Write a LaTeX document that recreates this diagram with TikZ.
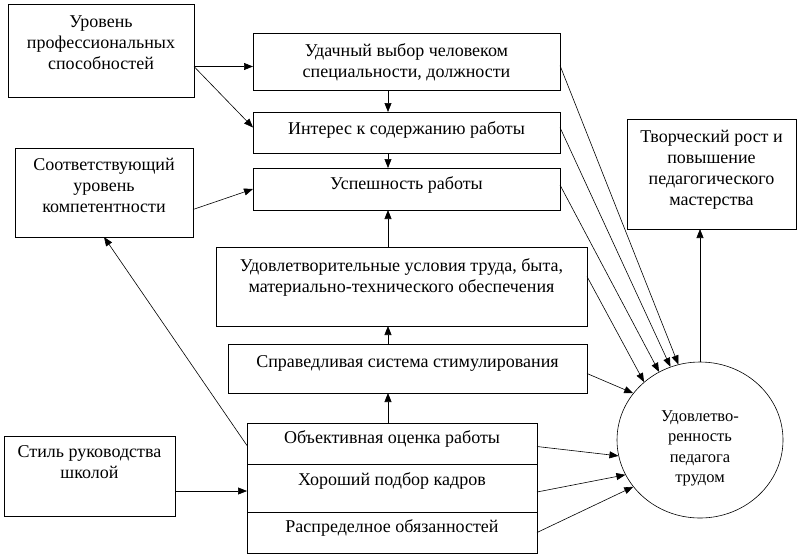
\documentclass[tikz,border=0pt]{standalone}
\usepackage{fontspec}
\setmainfont{Liberation Serif}
\usepackage{tikz}
\usetikzlibrary{arrows.meta, positioning, calc, shapes.geometric}

\begin{document}
\begin{tikzpicture}[
  x=1pt, y=-1pt,
  box/.style  = {rectangle, draw, line width=0.8pt, inner sep=0pt, outer sep=0pt,
                 minimum width=#1, align=center,
                 font=\fontsize{18}{21}\selectfont},
  circ/.style = {ellipse, draw, line width=0.6pt, inner sep=0pt,
                 minimum width=166pt, minimum height=156pt, align=center,
                 text height=89pt, text depth=4pt,
                 font=\fontsize{16.5}{20.5}\selectfont},
  arr/.style  = {-{Triangle[length=9pt,width=7pt]}, line width=0.6pt},
]
\useasboundingbox (0,0) rectangle (799,558);
% Left column
\node[box=186pt, text height=65pt, text depth=28pt] (lev) at (101,50.5)
  {Уровень\\профессиональных\\способностей};
\node[box=178pt, text height=64pt, text depth=25pt] (sootv) at (104,192.5)
  {Соответствующий\\уровень\\компетентности};
\node[box=171pt, text height=42pt, text depth=38pt] (stil) at (89.5,476)
  {Стиль руководства\\школой};
% Middle column
\node[box=307pt, text height=44pt, text depth=13pt] (udach) at (406.5,61.5)
  {Удачный выбор человеком\\специальности, должности};
\node[box=307pt, text height=22pt, text depth=19pt] (inter) at (406.5,132.5)
  {Интерес к содержанию работы};
\node[box=307pt, text height=21pt, text depth=21pt] (usp) at (406.5,189)
  {Успешность работы};
\node[box=371pt, text height=45pt, text depth=34pt] (udovl) at (401.5,286.5)
  {Удовлетворительные условия труда, быта,\\материально-технического обеспечения};
\node[box=359pt, text height=23pt, text depth=26pt] (sprav) at (407.5,368.5)
  {Справедливая система стимулирования};
% Stack of three
\node[box=290pt, text height=20pt, text depth=21pt] (objekt) at (392,443.5)
  {Объективная оценка работы};
\node[box=290pt, text height=21pt, text depth=27pt, below=0pt of objekt] (horosh)
  {Хороший подбор кадров};
\node[box=290pt, text height=20pt, text depth=21pt, below=0pt of horosh] (raspr)
  {Распределное обязанностей};
% Right column
\node[box=169pt, text height=86pt, text depth=24pt] (tvor) at (711.5,174)
  {Творческий рост и\\повышение\\педагогического\\мастерства};
\node[circ] (sat) at (700,440) {Удовлетво-\\ренность\\педагога\\трудом};
\coordinate (axis) at (388,0);
% Arrows
\draw[arr] ($(lev.east)+(0,16)$) coordinate (levout) -- (levout -| udach.west);
\draw[arr] (levout) -- ($(inter.west)+(0,-5)$);
\draw[arr] ($(sootv.east)+(0,17)$) -- (usp.west);
\draw[arr] (udach.south -| axis) -- (inter.north -| axis);
\draw[arr] (inter.south -| axis) -- (usp.north -| axis);
\draw[arr] (udovl.north -| axis) -- (usp.south -| axis);
\draw[arr] (sprav.north -| axis) -- (udovl.south -| axis);
\draw[arr] (objekt.north -| axis) -- (sprav.south -| axis);
\draw[arr] ($(stil.east)+(0,15)$) coordinate (stilout) -- (stilout -| horosh.west);
\draw[arr] ($(objekt.west)+(0,2)$) -- (sootv.south);
% Into the ellipse
\draw[arr] ($(udach.east)+(0,4)$)  -- (sat.106);
\draw[arr] ($(inter.east)+(0,-5)$) -- (sat.112);
\draw[arr] ($(usp.east)+(0,-4)$)   -- (sat.121);
\draw[arr] ($(udovl.east)+(0,-10)$) -- (sat.134);
\draw[arr] ($(sprav.east)+(0,5)$)  -- (sat.145);
\draw[arr] ($(objekt.east)+(0,3)$) -- (sat.191);
\draw[arr] ($(horosh.east)+(0,4)$) -- (sat.205);
\draw[arr] (raspr.east) -- (sat.215);
\draw[arr] (sat.north) -- (sat.north |- tvor.south);
\end{tikzpicture}
\end{document}
